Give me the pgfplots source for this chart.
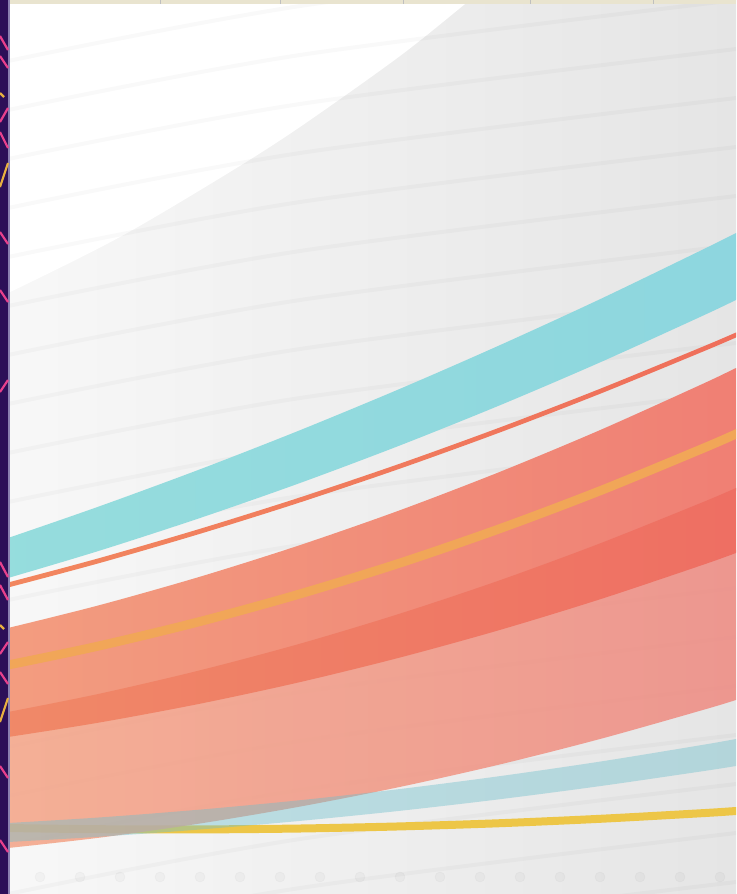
\documentclass[border=0pt]{standalone}
\usepackage{pgfplots}
\pgfplotsset{compat=1.18}
\definecolor{bgL}{HTML}{F8F8F8}
\definecolor{bgR}{HTML}{E5E5E5}
\definecolor{cyanL}{HTML}{96DDDD}
\definecolor{cyanR}{HTML}{8CD5DF}
\definecolor{redlL}{HTML}{F2885F}
\definecolor{redlR}{HTML}{EE6A5A}
\definecolor{upL}{HTML}{F39E80}
\definecolor{upR}{HTML}{EF7A72}
\definecolor{midL}{HTML}{F08A68}
\definecolor{midR}{HTML}{EE6A62}
\definecolor{loL}{HTML}{F4A586}
\definecolor{loR}{HTML}{EE8580}
\definecolor{orl}{HTML}{F1A658}
\definecolor{ltblue}{HTML}{6EC0CD}
\definecolor{yel}{HTML}{EDC647}
\definecolor{strip}{HTML}{2C0F58}
\definecolor{stripedge}{HTML}{8A7FB0}
\definecolor{pinkz}{HTML}{E8408C}
\definecolor{yelz}{HTML}{E8B040}
\definecolor{beige}{HTML}{E9E4CF}
\begin{document}
\begin{tikzpicture}
\begin{axis}[
  width=368pt, height=447pt, scale only axis,
  xmin=0, xmax=736, ymin=0, ymax=894, y dir=reverse,
  hide axis, clip=true,
]
% background gradient
\addplot[draw=none, left color=bgL, right color=bgR] coordinates {(0,0) (736,0) (736,894) (0,894)} -- cycle;
% white region upper left
\addplot[draw=none, fill=white, smooth, tension=0.5] coordinates {(-20,303) (8,293) (120,237) (230,172) (300,127) (400,56) (470,0) (490,-16) (-20,-16)} -- cycle;
% faint streaks
\pgfplotsset{streak/.style={black, opacity=0.022, line width=2pt, smooth}}
\addplot[streak] coordinates {(8,61) (300,6) (736,-49)};
\addplot[streak] coordinates {(8,110) (300,55) (736,0)};
\addplot[streak] coordinates {(8,159) (300,104) (736,49)};
\addplot[streak] coordinates {(8,208) (300,153) (736,98)};
\addplot[streak] coordinates {(8,257) (300,202) (736,147)};
\addplot[streak] coordinates {(8,306) (300,251) (736,196)};
\addplot[streak] coordinates {(8,355) (300,300) (736,245)};
\addplot[streak] coordinates {(8,404) (300,349) (736,294)};
\addplot[streak] coordinates {(8,453) (300,398) (736,343)};
\addplot[streak] coordinates {(8,502) (300,447) (736,392)};
\addplot[streak] coordinates {(8,551) (300,496) (736,441)};
\addplot[streak] coordinates {(8,600) (300,545) (736,490)};
\addplot[streak] coordinates {(8,649) (300,594) (736,539)};
\addplot[streak] coordinates {(8,698) (300,643) (736,588)};
\addplot[streak] coordinates {(8,747) (300,692) (736,637)};
\addplot[streak] coordinates {(8,796) (300,741) (736,686)};
\addplot[streak] coordinates {(8,845) (300,790) (736,735)};
\addplot[streak] coordinates {(8,894) (300,839) (736,784)};
\addplot[streak] coordinates {(8,943) (300,888) (736,833)};
\addplot[streak] coordinates {(8,992) (300,937) (736,882)};
% faint dots at bottom
\addplot[only marks, mark=*, mark size=2.5pt, black, opacity=0.025] coordinates {(40,877) (80,877) (120,877) (160,877) (200,877) (240,877) (280,877) (320,877) (360,877) (400,877) (440,877) (480,877) (520,877) (560,877) (600,877) (640,877) (680,877) (720,877)};
% cyan band
\addplot[draw=none, left color=cyanL, right color=cyanR, smooth, tension=0.5] coordinates {
 (-30,550.6) (8,538) (100,506.1) (200,469.3) (300,430.2) (400,388.8) (500,345.1) (600,299.2) (700,250.9) (736,233) (800,200.4) (860,169.0)
 (860,238.9) (800,269.0) (736,300) (700,317.0) (600,362.4) (500,405.2) (400,445.4) (300,483.0) (200,518.0) (100,550.5) (8,578) (-30,588.7)} -- cycle;
% thin red line (as band)
\addplot[draw=none, left color=redlL, right color=redlR, smooth, tension=0.5] coordinates {
 (-30,592.1) (8,582.5) (100,557.9) (200,528.8) (300,497.4) (400,463.6) (500,427.4) (600,388.8) (700,347.8) (736,332.5) (800,304.5) (860,277.3)
 (860,282.3) (800,309.5) (736,337.5) (700,352.8) (600,393.8) (500,432.4) (400,468.6) (300,502.4) (200,533.8) (100,562.9) (8,587.5) (-30,597.1)} -- cycle;
% yellow line
\addplot[yel, line width=4pt, smooth, tension=0.5] coordinates {(-30,827.2) (8,828) (100,829.2) (200,829.4) (300,828.5) (400,826.4) (500,823.2) (600,818.8) (700,813.3) (736,811) (800,806.6) (860,802.0)};
% upper red sub-band
\addplot[draw=none, left color=upL, right color=upR, smooth, tension=0.5] coordinates {
 (-30,636.7) (8,628) (100,605.0) (200,576.7) (300,545.1) (400,510.2) (500,471.8) (600,430.1) (700,385.1) (736,368) (800,336.6) (860,305.9)
 (860,435.0) (800,462.8) (736,491) (700,506.3) (600,546.4) (500,583.2) (400,616.6) (300,646.7) (200,673.3) (100,696.6) (8,715) (-30,721.8)} -- cycle;
% lower salmon band
\addplot[draw=none, left color=loL, right color=loR, fill opacity=0.85, smooth, tension=0.5] coordinates {
 (-30,739.3) (8,734) (100,719.4) (200,700.7) (300,679.1) (400,654.5) (500,626.9) (600,596.3) (700,562.8) (736,550) (800,526.3) (860,503.0)
 (860,659.9) (800,679.8) (736,700) (700,710.8) (600,739.0) (500,764.4) (400,786.9) (300,806.6) (200,823.5) (100,837.6) (8,848) (-30,851.6)} -- cycle;
% darker overlap band
\addplot[draw=none, left color=midL, right color=midR, smooth, tension=0.5] coordinates {
 (-30,718.8) (8,712) (100,693.6) (200,670.3) (300,643.7) (400,613.6) (500,580.2) (600,543.4) (700,503.3) (736,488) (800,459.8) (860,432.0)
 (860,506.0) (800,529.3) (736,553) (700,565.8) (600,599.3) (500,629.9) (400,657.5) (300,682.1) (200,703.7) (100,722.4) (8,737) (-30,742.3)} -- cycle;
% orange line
\addplot[orl, line width=4.5pt, smooth, tension=0.5] coordinates {(-30,672.1) (8,665) (100,645.7) (200,621.5) (300,593.9) (400,563.0) (500,528.6) (600,490.8) (700,449.6) (736,434) (800,405.1) (860,376.7)};
% light blue band
\addplot[draw=none, fill=ltblue, fill opacity=0.42, smooth, tension=0.5] coordinates {
 (-30,824.9) (8,823) (100,817.4) (200,809.6) (300,800.2) (400,789.0) (500,776.1) (600,761.6) (700,745.3) (736,739) (800,727.3) (860,715.7)
 (860,745.3) (800,755.6) (736,766) (700,771.6) (600,786.1) (500,799.2) (400,810.8) (300,820.9) (200,829.5) (100,836.7) (8,842) (-30,843.8)} -- cycle;
% top beige strip
\addplot[draw=none, fill=beige] coordinates {(0,0) (736,0) (736,4) (0,4)} -- cycle;
\addplot[black!25, line width=0.4pt] coordinates {(160,0) (160,4)};
\addplot[black!25, line width=0.4pt] coordinates {(280,0) (280,4)};
\addplot[black!25, line width=0.4pt] coordinates {(403,0) (403,4)};
\addplot[black!25, line width=0.4pt] coordinates {(530,0) (530,4)};
\addplot[black!25, line width=0.4pt] coordinates {(653,0) (653,4)};
% left strip
\addplot[draw=none, fill=strip] coordinates {(0,0) (8,0) (8,894) (0,894)} -- cycle;
\addplot[stripedge, line width=1pt] coordinates {(8.5,0) (8.5,894)};
\pgfplotsset{pz/.style={pinkz, line width=1.1pt}, yz/.style={yelz, line width=1.1pt}}
\addplot[pz] coordinates {(0,36) (8,50)};
\addplot[pz] coordinates {(0,56) (8,68)};
\addplot[pz] coordinates {(8,108) (0,122)};
\addplot[pz] coordinates {(0,132) (8,148)};
\addplot[pz] coordinates {(0,232) (8,244)};
\addplot[pz] coordinates {(0,290) (8,302)};
\addplot[pz] coordinates {(8,380) (0,392)};
\addplot[pz] coordinates {(0,562) (8,577)};
\addplot[pz] coordinates {(0,585) (8,600)};
\addplot[pz] coordinates {(8,642) (0,654)};
\addplot[pz] coordinates {(0,672) (8,684)};
\addplot[pz] coordinates {(0,766) (8,778)};
\addplot[pz] coordinates {(0,840) (8,852)};
\addplot[yz] coordinates {(0,93) (4,97)};
\addplot[yz] coordinates {(8,163) (0,187)};
\addplot[yz] coordinates {(0,625) (4,629)};
\addplot[yz] coordinates {(8,698) (0,722)};
\end{axis}
\end{tikzpicture}
\end{document}
